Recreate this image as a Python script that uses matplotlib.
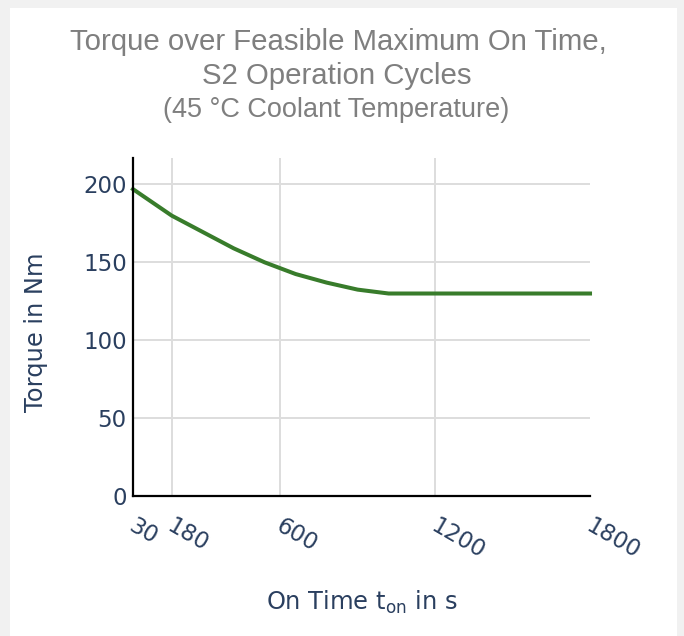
import matplotlib.pyplot as plt
from matplotlib.patches import Rectangle
from matplotlib.transforms import ScaledTranslation

# data
on_time = [30, 180, 300, 420, 540, 660, 780, 900, 1020, 1800]
torque = [197, 180, 169.5, 159, 150, 142.5, 137, 132.5, 130, 130]
x_ticks = [30, 180, 600, 1200, 1800]
y_ticks = [0, 50, 100, 150, 200]

TICK_COLOR = '#2a3f5f'
W, H = 684, 636

fig = plt.figure(figsize=(W / 100, H / 100), dpi=100)
fig.patch.set_facecolor('#f1f1f1')
# white card
fig.patches.append(Rectangle((10 / W, 0), 667 / W, 628 / H, transform=fig.transFigure,
                             facecolor='white', edgecolor='none', zorder=-5))

ax = fig.add_axes([133 / W, 140 / H, 457 / W, 338 / H])
ax.set_facecolor('none')
ax.plot(on_time, torque, color='#387c2b', lw=2.9, solid_joinstyle='round', zorder=3, clip_on=False)

ax.set_xlim(30, 1800)
ax.set_ylim(0, 217)
ax.set_xticks(x_ticks)
ax.set_yticks(y_ticks)
ax.grid(True, color='#dddddd', lw=1.4)
ax.set_axisbelow(True)
# no vertical grid line at the right end
ax.xaxis.get_gridlines()[-1].set_visible(False)

for side in ('top', 'right'):
    ax.spines[side].set_visible(False)
for side in ('left', 'bottom'):
    ax.spines[side].set_color('black')
    ax.spines[side].set_linewidth(1.6)
    ax.spines[side].set_zorder(4)

ax.tick_params(axis='both', length=0, colors=TICK_COLOR, labelsize=16.5)
ax.tick_params(axis='y', pad=4.5)
ax.tick_params(axis='x', pad=13)
shift = ScaledTranslation(3 / 100, 0, fig.dpi_scale_trans)
for lab in ax.get_xticklabels():
    lab.set_rotation(-30)
    lab.set_ha('left')
    lab.set_va('top')
    lab.set_rotation_mode('anchor')
    lab.set_transform(lab.get_transform() + shift)

fig.text(36 / W, 1 - 332 / H, 'Torque in Nm', color=TICK_COLOR, fontsize=17.4,
         rotation=90, ha='center', va='center')
fig.text(362 / W, 1 - 602 / H, r'On Time t$_{\mathrm{on}}$ in s', color=TICK_COLOR,
         fontsize=17.4, ha='center', va='center')

title_kw = dict(family='Liberation Sans', color='#7f7f7f', ha='center', va='center')
fig.text(338 / W, 1 - 42 / H, 'Torque over Feasible Maximum On Time,', fontsize=21.2, **title_kw)
fig.text(337 / W, 1 - 76 / H, 'S2 Operation Cycles', fontsize=21.2, **title_kw)
fig.text(336 / W, 1 - 110 / H, '(45 °C Coolant Temperature)', fontsize=19.5, **title_kw)

fig.savefig('out.png', dpi=100, facecolor=fig.get_facecolor())
